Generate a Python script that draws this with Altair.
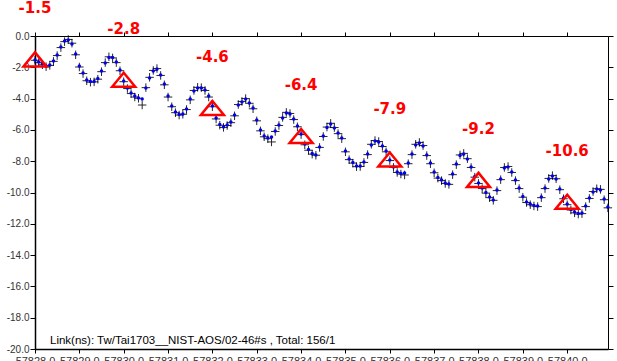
import altair as alt
import pandas as pd

# ---- data ----
mjd_start = 57828.0
step_days = 1.0 / 12.0  # 2-hour sampling, 156 points

blue_vals = [
    -1.53, -1.66, -1.79, -1.92, -1.85, -1.60, -1.21, -0.70, -0.32, -0.26, -0.51, -1.15,
    -1.92, -2.36, -2.81, -2.91, -2.91, -2.72, -2.24, -1.73, -1.37, -1.37, -1.66, -2.17,
    -2.88, -3.32, -3.64, -3.83, -3.96, -4.03, -3.32, -2.68, -2.24, -2.11, -2.49, -3.07,
    -3.83, -4.47, -4.86, -5.02, -4.98, -4.66, -4.03, -3.51, -3.32, -3.32, -3.45, -3.83,
    -4.47, -5.24, -5.66, -5.81, -5.69, -5.50, -5.05, -4.41, -4.22, -4.03, -4.28, -4.60,
    -5.37, -6.01, -6.39, -6.52, -6.45, -6.07, -5.69, -5.24, -4.92, -4.98, -5.30, -5.75,
    -6.26, -6.90, -7.25, -7.51, -7.60, -7.09, -6.39, -5.85, -5.62, -5.88, -6.20, -6.52,
    -7.35, -7.86, -8.08, -8.31, -8.31, -8.05, -7.54, -6.96, -6.71, -6.77, -7.03, -7.35,
    -7.92, -8.37, -8.69, -8.79, -8.75, -8.12, -7.54, -6.96, -6.84, -7.03, -7.60, -8.12,
    -8.69, -9.04, -9.20, -9.39, -9.46, -8.82, -8.18, -7.64, -7.54, -7.86, -8.37, -8.98,
    -9.39, -9.71, -10.00, -10.29, -10.48, -9.84, -9.14, -8.43, -8.37, -8.69, -9.20, -9.71,
    -10.26, -10.61, -10.73, -10.83, -10.86, -10.29, -9.71, -9.14, -8.95, -9.14, -9.78, -10.35,
    -10.73, -11.09, -11.25, -11.34, -11.31, -10.86, -10.35, -9.97, -9.78, -9.84, -10.42, -10.93,
]

black_vals = [
    -1.55, -1.70, -1.84, -1.96, -1.88, -1.62, -1.25, -0.74, -0.36, -0.22, -0.46, -1.20,
    -1.98, -2.40, -2.86, -2.95, -2.93, -2.76, -2.28, -1.70, -1.33, -1.40, -1.70, -2.22,
    -2.92, -3.36, -3.68, -3.90, -3.98, -4.41, -3.30, -2.64, -2.20, -2.08, -2.52, -3.12,
    -3.90, -4.52, -4.90, -5.05, -5.00, -4.70, -4.08, -3.48, -3.28, -3.30, -3.48, -3.90,
    -4.52, -5.30, -5.70, -5.84, -5.72, -5.54, -5.10, -4.38, -4.18, -4.00, -4.30, -4.65,
    -5.42, -6.06, -6.44, -6.56, -6.77, -6.10, -5.72, -5.20, -4.88, -4.95, -5.34, -5.80,
    -6.30, -6.95, -7.30, -7.55, -7.62, -7.12, -6.42, -5.82, -5.58, -5.85, -6.24, -6.56,
    -7.40, -7.90, -8.12, -8.35, -8.34, -8.08, -7.58, -6.92, -6.68, -6.74, -7.06, -7.40,
    -7.96, -8.40, -8.72, -8.82, -8.88, -8.16, -7.58, -6.92, -6.80, -7.00, -7.64, -8.16,
    -8.74, -9.08, -9.24, -9.42, -9.48, -8.86, -8.22, -7.60, -7.50, -7.84, -8.40, -9.02,
    -9.42, -9.75, -10.04, -10.33, -10.50, -9.88, -9.18, -8.40, -8.34, -8.72, -9.24, -9.75,
    -10.30, -10.64, -10.78, -10.86, -10.90, -10.33, -9.75, -9.10, -8.92, -9.12, -9.82, -10.40,
    -10.78, -11.12, -11.30, -11.38, -11.35, -10.90, -10.38, -9.94, -9.76, -9.80, -10.46, -10.98,
]

marker_mjd = [57828, 57830, 57832, 57834, 57836, 57838, 57840]
marker_vals = [-1.5, -2.8, -4.6, -6.4, -7.9, -9.2, -10.6]
marker_text = ["-1.5", "-2.8", "-4.6", "-6.4", "-7.9", "-9.2", "-10.6"]

x_ticks = list(range(57828, 57841))
y_ticks = list(range(-20, 1, 2))
link_text = "Link(ns): Tw/Tai1703__NIST-AOS/02-46#s , Total: 156/1"

# ---- tables ----
times = [mjd_start + i * step_days for i in range(len(blue_vals))]
df_blue = pd.DataFrame({"mjd": times, "v": blue_vals})
df_black = pd.DataFrame({"mjd": times, "v": black_vals})
df_mark = pd.DataFrame({"mjd": marker_mjd, "v": marker_vals, "t": marker_text})

xscale = alt.Scale(domain=[57828.0, 57840.92], nice=False, zero=False)
yscale = alt.Scale(domain=[-20, 0], nice=False, zero=False)
lab_expr = "(datum.value < 0 ? '-' : '') + format(abs(datum.value), '.1f')"

x_bottom = alt.Axis(orient="bottom", values=x_ticks, labelExpr=lab_expr, title=None,
                    grid=False, domainColor="black", domainWidth=1.5, tickColor="black",
                    tickSize=4, labelPadding=2, labelFont="Liberation Sans", labelFontSize=11,
                    labelColor="#333333", labelOverlap=False, labelFlush=False)
y_left = alt.Axis(orient="left", values=y_ticks, labelExpr=lab_expr, title=None,
                  grid=False, domainColor="black", domainWidth=1.5, tickColor="black",
                  tickSize=5, labelPadding=1, labelFont="Liberation Sans", labelFontSize=10,
                  labelColor="#333333", labelOverlap=False, labelFlush=False)
x_top = alt.Axis(orient="top", values=x_ticks, labels=False, title=None, grid=False,
                 domainColor="black", domainWidth=1, tickColor="black", tickSize=4)
y_right = alt.Axis(orient="right", values=y_ticks, labels=False, title=None, grid=False,
                   domainColor="black", domainWidth=1, tickColor="black", tickSize=5)

cross_path = "M-1,0L1,0M0,-1L0,1"
tri_path = "M0,-0.62L-1,0.6L1,0.6Z"

crosses = alt.Chart(df_black).mark_point(
    shape=cross_path, filled=False, color="black", strokeWidth=1, size=72, opacity=0.85
).encode(
    x=alt.X("mjd:Q", scale=xscale, axis=x_bottom),
    y=alt.Y("v:Q", scale=yscale, axis=y_left),
)

dots = alt.Chart(df_blue).mark_circle(color="#0000ee", size=12, opacity=1).encode(
    x=alt.X("mjd:Q", scale=xscale, axis=x_top),
    y=alt.Y("v:Q", scale=yscale, axis=y_right),
)

tris = alt.Chart(df_mark).mark_point(
    shape=tri_path, filled=False, color="#ff0000", strokeWidth=2.5, size=530, opacity=1
).encode(
    x=alt.X("mjd:Q", scale=xscale, axis=None),
    y=alt.Y("v:Q", scale=yscale, axis=None),
)

labels = alt.Chart(df_mark).mark_text(
    font="DejaVu Sans", fontWeight="bold", fontSize=15, color="#ff0000",
    align="center", baseline="alphabetic", dy=-46
).encode(
    x=alt.X("mjd:Q", scale=xscale, axis=None),
    y=alt.Y("v:Q", scale=yscale, axis=None),
    text="t:N",
)

link = alt.Chart(pd.DataFrame({"t": [link_text]})).mark_text(
    font="Liberation Sans", fontSize=11.5, color="black", align="left", baseline="alphabetic"
).encode(x=alt.value(15), y=alt.value(308), text="t:N")

chart = alt.layer(crosses, dots, tris, labels, link).resolve_axis(
    x="independent", y="independent"
).properties(
    width=573, height=313, autosize="none",
    padding={"left": 35, "top": 36, "right": 9, "bottom": 12},
    background="white",
).configure_view(stroke=None)

chart.save("out.html", embed_options={"renderer": "svg", "actions": False})
